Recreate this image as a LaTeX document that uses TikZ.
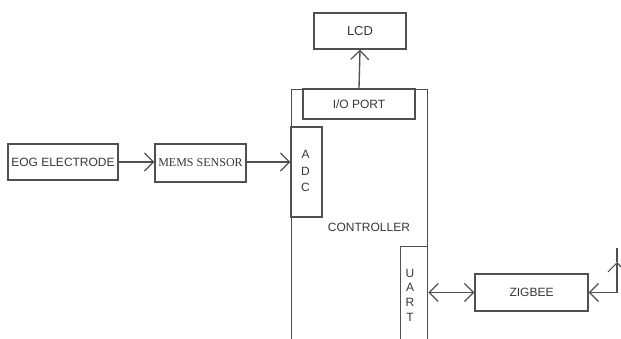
\documentclass[tikz,border=0pt]{standalone}
\usepackage{fontspec}
\setmainfont{Liberation Sans}
\newfontfamily\serifx{Liberation Serif}
\usetikzlibrary{arrows.meta}
\definecolor{linecol}{RGB}{80,80,80}
\definecolor{textcol}{RGB}{55,55,55}
\tikzset{
  box/.style={draw=linecol, line width=1.35pt, rectangle, inner sep=0pt, text=textcol,
    font=\fontsize{12}{14}\selectfont},
  conn/.style={draw=linecol, line width=1.35pt},
  arr/.style={conn, -{Straight Barb[length=9pt,width=18pt,line width=1.2pt]}},
  darr/.style={conn, {Straight Barb[length=9pt,width=18pt,line width=1.2pt]}-{Straight Barb[length=9pt,width=18pt,line width=1.2pt]}},
  lbl/.style={text=textcol, inner sep=0pt, font=\fontsize{12}{14}\selectfont}
}
\begin{document}
\begin{tikzpicture}[x=1pt,y=-1pt]
\useasboundingbox (0,0) rectangle (621,338);
\clip (0,0) rectangle (621,338);
% controller outer box (extends below the picture)
\node[box, minimum width=136pt, minimum height=270pt, anchor=north west] (ctrl) at (291,89) {};
\node[lbl] (ctrltxt) at (369,227) {CONTROLLER};
% boxes
\node[box, minimum width=92pt, minimum height=36pt, font=\fontsize{13}{15}\selectfont] (lcd) at (360,31) {LCD};
\node[box, minimum width=112pt, minimum height=30pt] (io) at (359,104) {I/O PORT};
\node[box, minimum width=31pt, minimum height=90pt] (adc) at (306.5,172) {};
\node[lbl, align=center, font=\fontsize{12}{16.5}\selectfont] (adctxt) at (305.5,171) {A\\D\\C};
\node[box, minimum width=27pt, minimum height=110pt, anchor=north west] (uart) at (400,246) {};
\node[lbl, align=center, font=\fontsize{12}{14.7}\selectfont] (uarttxt) at (410,295) {U\\A\\R\\T};
\node[box, minimum width=110pt, minimum height=36pt] (eog) at (63,162) {EOG ELECTRODE};
\node[box, minimum width=91pt, minimum height=38pt, font=\serifx\fontsize{12}{14}\selectfont] (mems) at (200.5,163) {MEMS SENSOR};
\node[box, minimum width=113pt, minimum height=37pt] (zig) at (531.5,292.5) {ZIGBEE};
% connectors
\draw[arr] (eog.east |- 0,162) -- (mems.west |- 0,162);
\draw[arr] (mems.east |- 0,162) -- (adc.west |- 0,162);
\draw[arr] (io.north) -- (lcd.south);
\draw[darr] (uart.east |- zig.west) -- (zig.west);
\coordinate (ant) at (617,248);
\coordinate (antmid) at (617,262);
\coordinate (antbot) at (617,292.5);
\draw[arr] (antbot) -- (antmid);
\draw[conn] (antmid) -- (ant);
\draw[arr] (antbot) -- (zig.east);
\end{tikzpicture}
\end{document}
